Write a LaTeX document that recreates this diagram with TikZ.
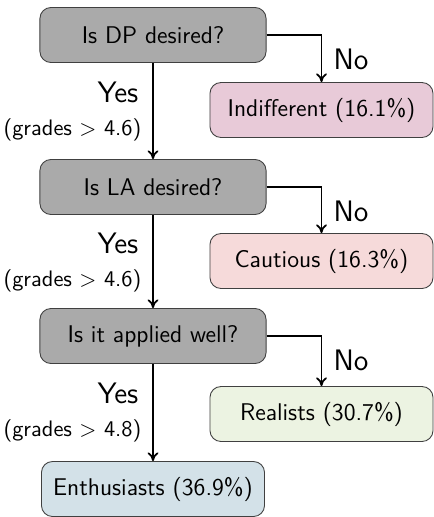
\documentclass[tikz,border=0pt]{standalone}
\usepackage{amsmath}
\usepackage{amssymb}
\usetikzlibrary{arrows.meta}

\definecolor{qgray}{RGB}{170,170,170}
\definecolor{indiffpink}{RGB}{232,202,216}
\definecolor{cautpink}{RGB}{246,218,218}
\definecolor{realgreen}{RGB}{236,243,226}
\definecolor{enthblue}{RGB}{211,225,232}

\tikzset{
	question/.style={draw=black!75, fill=qgray, rounded corners=5pt,
		minimum width=3.62cm, minimum height=0.88cm,
		font=\sffamily\fontsize{11}{13}\selectfont},
	outcome/.style={draw=black!75, rounded corners=5pt,
		minimum width=3.57cm, minimum height=0.88cm,
		font=\sffamily\fontsize{11}{13}\selectfont},
	flow/.style={thick, -{To[length=4pt,width=5pt]}},
	answer/.style={font=\sffamily\fontsize{13.5}{16}\selectfont, inner sep=1pt},
	cond/.style={font=\sffamily\fontsize{10.2}{12}\selectfont, inner sep=1pt}
}

\begin{document}
\begin{tikzpicture}[x=0.016cm, y=-0.016cm]
			\useasboundingbox (0,0) rectangle (433,517);
			% questions
			\node [question] (dp) at (153,35) {Is DP desired?};
			\node [question] (la) at (153,187) {Is LA desired?};
			\node [question] (well) at (153,336) {Is it applied well?};
			\node [outcome, fill=enthblue] (enth) at (153,489) {Enthusiasts (36.9\%)};
			% groups
			\node [outcome, fill=indiffpink] (indiff) at (321.5,110) {Indifferent (16.1\%)};
			\node [outcome, fill=cautpink] (caut) at (321.5,261) {Cautious (16.3\%)};
			\node [outcome, fill=realgreen] (real) at (321.5,414) {Realists (30.7\%)};
			% arrows
			\draw[flow] (dp.south) -- (la.north);
			\draw[flow] (la.south) -- (well.north);
			\draw[flow] (well.south) -- (enth.north);
			\draw[flow] (dp.east) -| (indiff.north);
			\draw[flow] (la.east) -| (caut.north);
			\draw[flow] (well.east) -| (real.north);
			% labels
			\node [answer, anchor=west] (no1) at (331,59) {No};
			\node [answer, anchor=west] (no2) at (331,211) {No};
			\node [answer, anchor=west] (no3) at (331,360) {No};
			\node [answer, anchor=east] (yes1) at (141,92) {Yes};
			\node [answer, anchor=east] (yes2) at (141,243) {Yes};
			\node [answer, anchor=east] (yes3) at (141,393) {Yes};
			\node [cond, anchor=east] (g1) at (144,130) {(grades $>$ 4.6)};
			\node [cond, anchor=east] (g2) at (144,281) {(grades $>$ 4.6)};
			\node [cond, anchor=east] (g3) at (144,431) {(grades $>$ 4.8)};
\end{tikzpicture}
\end{document}
